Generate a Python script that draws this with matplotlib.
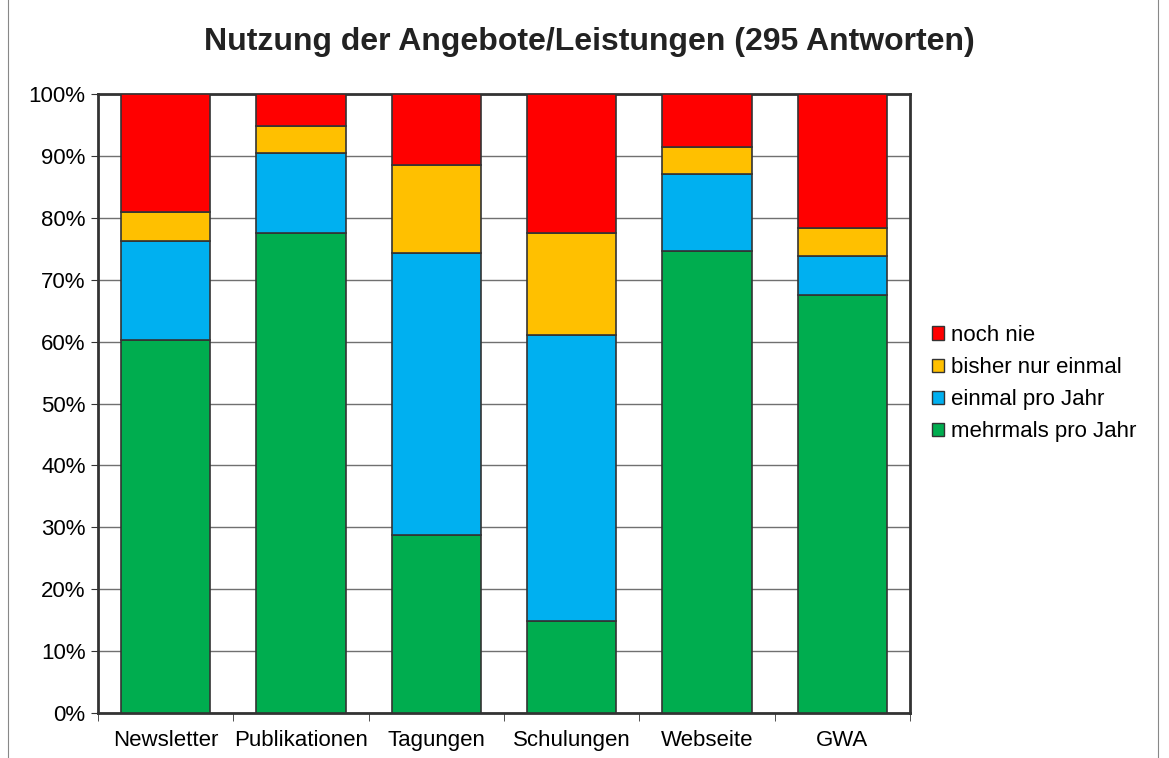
import matplotlib.pyplot as plt
from matplotlib.patches import Patch, Rectangle
import numpy as np

plt.rcParams['font.family'] = ['Liberation Sans', 'DejaVu Sans']

# categories and stacked shares (percent)
categories = ['Newsletter', 'Publikationen', 'Tagungen', 'Schulungen', 'Webseite', 'GWA']
mehrmals = [60.3, 77.6, 28.8, 14.9, 74.6, 67.5]
einmal_jahr = [16.0, 12.9, 45.5, 46.1, 12.5, 6.4]
nur_einmal = [4.7, 4.4, 14.2, 16.6, 4.4, 4.4]
noch_nie = [19.0, 5.1, 11.5, 22.4, 8.5, 21.7]

series = [
    ('mehrmals pro Jahr', mehrmals, '#00ad4f'),
    ('einmal pro Jahr', einmal_jahr, '#00b0f0'),
    ('bisher nur einmal', nur_einmal, '#ffc000'),
    ('noch nie', noch_nie, '#ff0000'),
]

fig = plt.figure(figsize=(11.69, 7.58), dpi=100)
ax = fig.add_axes([98 / 1169, 1 - 713 / 758, 812 / 1169, 619 / 758])

# outer chart frame
fig.patches.append(Rectangle((8 / 1169, -0.01), 1150 / 1169, 1.05, transform=fig.transFigure,
                             fill=False, edgecolor='#888888', linewidth=0.8))

x = np.arange(len(categories))
bottom = np.zeros(len(categories))
for name, vals, col in series:
    ax.bar(x, vals, 0.66, bottom=bottom, color=col, edgecolor='#333333', linewidth=1.2,
           label=name, zorder=3)
    bottom += np.array(vals)

ax.set_xlim(-0.5, len(categories) - 0.5)
ax.set_ylim(0, 100)
ax.set_yticks(np.arange(0, 101, 10))
ax.set_yticklabels([f'{v}%' for v in range(0, 101, 10)], fontsize=16)
ax.set_xticks(x)
ax.set_xticklabels(categories, fontsize=16)
ax.set_xticks(np.arange(-0.5, len(categories), 1), minor=True)
ax.tick_params(axis='x', which='major', length=0, pad=12)
ax.tick_params(axis='x', which='minor', length=6, direction='out', color='#333333')
ax.tick_params(axis='y', length=5, direction='out', color='#333333', pad=4)
ax.grid(axis='y', color='#707070', linewidth=1, zorder=0)
for s in ax.spines.values():
    s.set_color('#333333')
    s.set_linewidth(2)

fig.text(589 / 1169, 1 - 42 / 758, 'Nutzung der Angebote/Leistungen (295 Antworten)',
         fontsize=23, fontweight='bold', ha='center', va='center', color='#222222')

handles = [Patch(facecolor=c, edgecolor='#333333', label=n) for n, v, c in reversed(series)]
fig.legend(handles=handles, loc='upper left', bbox_to_anchor=(932 / 1169, 1 - 325 / 758),
           frameon=False, fontsize=16, handlelength=0.55, handleheight=0.55,
           handletextpad=0.3, labelspacing=0.5, borderpad=0, borderaxespad=0)

fig.savefig('out.png', dpi=100)
